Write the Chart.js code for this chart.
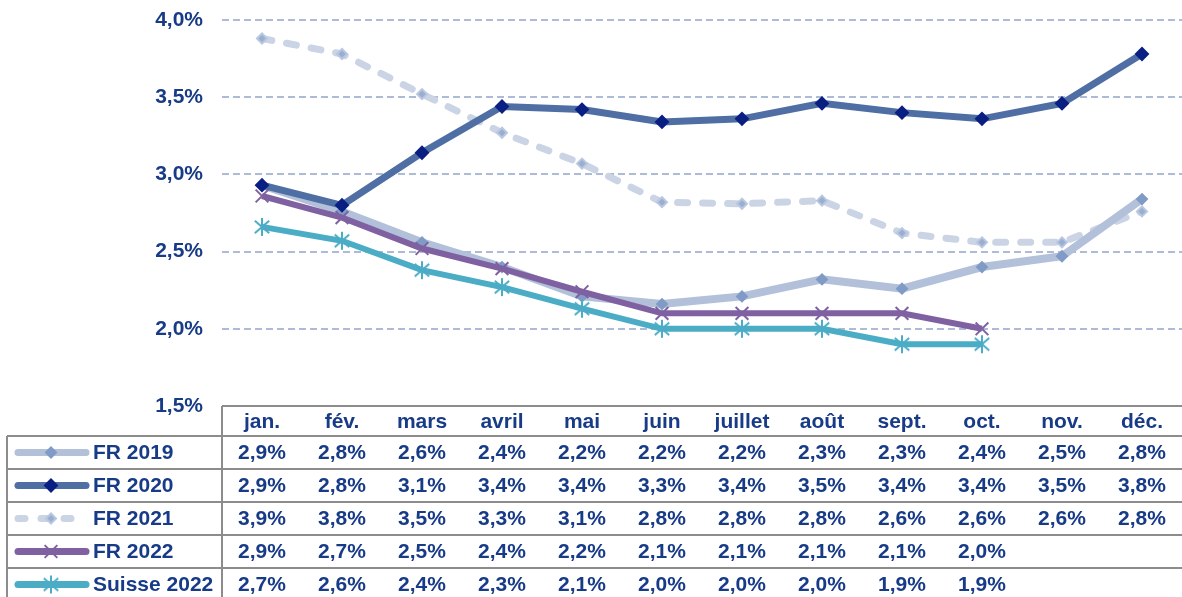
<!DOCTYPE html>
<html>
<head>
<meta charset="utf-8">
<script src="https://cdn.jsdelivr.net/npm/chart.js@4"></script>
<style>
  html, body { margin: 0; padding: 0; background: #fff; }
  #wrap { width: 1182px; height: 597px; position: relative; }
</style>
</head>
<body>
<div id="wrap"><canvas id="chart" width="1182" height="597"></canvas></div>
<script>
// Data
const months = ['jan.', 'fév.', 'mars', 'avril', 'mai', 'juin', 'juillet', 'août', 'sept.', 'oct.', 'nov.', 'déc.'];
const fr2019 = [2.93, 2.76, 2.56, 2.40, 2.21, 2.16, 2.21, 2.32, 2.26, 2.40, 2.47, 2.84];
const fr2020 = [2.93, 2.80, 3.14, 3.44, 3.42, 3.34, 3.36, 3.46, 3.40, 3.36, 3.46, 3.78];
const fr2021 = [3.88, 3.78, 3.52, 3.27, 3.07, 2.82, 2.81, 2.83, 2.62, 2.56, 2.56, 2.76];
const fr2022 = [2.86, 2.72, 2.52, 2.39, 2.24, 2.10, 2.10, 2.10, 2.10, 2.00];
const suisse2022 = [2.66, 2.57, 2.38, 2.27, 2.13, 2.00, 2.00, 2.00, 1.90, 1.90];
const yTicks = [1.5, 2.0, 2.5, 3.0, 3.5, 4.0];

const TEXT = '#173B86';
const GRID = '#AEBBD6';
const BORDER = '#8C8C8C';
const FONT = '"Liberation Sans", Arial, sans-serif';

function pct(v) {
    return (Math.round(v * 10) / 10).toFixed(1).replace('.', ',') + '%';
}

// asterisk marker (vertical bar + X)
function asterisk(color, r) {
    const c = document.createElement('canvas');
    c.width = c.height = r * 2 + 4;
    const g = c.getContext('2d');
    const m = r + 2;
    g.strokeStyle = color;
    g.lineWidth = 2;
    g.beginPath();
    g.moveTo(m, m - r); g.lineTo(m, m + r);
    g.moveTo(m - r * 0.8, m - r * 0.7); g.lineTo(m + r * 0.8, m + r * 0.7);
    g.moveTo(m + r * 0.8, m - r * 0.7); g.lineTo(m - r * 0.8, m + r * 0.7);
    g.stroke();
    return c;
}
const starImg = asterisk('#4BACC6', 9);

const series = [
    { label: 'FR 2019', data: fr2019, color: '#B2C0DA', width: 8, dash: [], point: 'rectRot', pr: 5, pc: '#7F9BC6', pb: '#7F9BC6', order: 3 },
    { label: 'FR 2020', data: fr2020, color: '#4E6EA4', width: 7, dash: [], point: 'rectRot', pr: 6, pc: '#0A1F82', pb: '#0A1F82', order: 2 },
    { label: 'FR 2021', data: fr2021, color: '#CBD4E5', width: 7, dash: [10, 15], point: 'rectRot', pr: 5, pc: '#9AAED1', pb: '#B9C7E0', order: 4 },
    { label: 'FR 2022', data: fr2022, color: '#7F61A2', width: 6, dash: [], point: 'crossRot', pr: 9, pc: '#7F61A2', pb: '#7F61A2', order: 1 },
    { label: 'Suisse 2022', data: suisse2022, color: '#4BACC6', width: 6, dash: [], point: starImg, pr: 9, pc: '#4BACC6', pb: '#4BACC6', order: 0 }
];

// Table under the plot, placed with the x scale
const tablePlugin = {
    id: 'dataTable',
    afterDraw(chart) {
        const ctx = chart.ctx;
        const x = chart.scales.x;
        const area = chart.chartArea;
        const top = area.bottom;
        const headerH = 30;
        const rowH = 33;
        const left = 7;
        const splitX = area.left;
        const right = chart.width;

        ctx.save();
        ctx.strokeStyle = BORDER;
        ctx.lineWidth = 2;
        ctx.beginPath();
        ctx.moveTo(splitX, top); ctx.lineTo(right, top);
        ctx.moveTo(splitX, top); ctx.lineTo(splitX, chart.height);
        ctx.moveTo(left, top + headerH); ctx.lineTo(left, chart.height);
        for (let i = 0; i < series.length; i++) {
            const y = top + headerH + i * rowH;
            ctx.moveTo(left, y); ctx.lineTo(right, y);
        }
        ctx.stroke();

        ctx.fillStyle = TEXT;
        ctx.font = 'bold 21px ' + FONT;
        ctx.textAlign = 'center';
        ctx.textBaseline = 'middle';
        months.forEach((m, i) => {
            ctx.fillText(m, x.getPixelForValue(i), top + headerH / 2 + 1);
        });

        series.forEach((s, r) => {
            const cy = top + headerH + r * rowH + rowH / 2 + 1;
            // legend sample
            ctx.save();
            ctx.strokeStyle = s.color;
            ctx.lineWidth = 7;
            ctx.lineCap = 'round';
            ctx.setLineDash(s.dash.length ? [7, 16] : []);
            ctx.beginPath();
            ctx.moveTo(18, cy - 1); ctx.lineTo(86, cy - 1);
            ctx.stroke();
            ctx.restore();
            const ps = { pointStyle: s.point, radius: s.pr, borderWidth: 2 };
            ctx.save();
            ctx.fillStyle = s.pc;
            ctx.strokeStyle = s.pb;
            ctx.lineWidth = 2;
            Chart.helpers.drawPoint(ctx, ps, 51, cy - 1);
            ctx.restore();

            ctx.fillStyle = TEXT;
            ctx.textAlign = 'left';
            ctx.fillText(s.label, 93, cy);
            ctx.textAlign = 'center';
            s.data.forEach((v, i) => {
                ctx.fillText(pct(v), x.getPixelForValue(i), cy);
            });
        });
        ctx.restore();
    }
};

new Chart(document.getElementById('chart'), {
    type: 'line',
    data: {
        labels: months,
        datasets: series.map(s => ({
            label: s.label,
            data: s.data,
            borderColor: s.color,
            borderWidth: s.width,
            borderDash: s.dash,
            borderCapStyle: s.dash.length ? 'round' : 'butt',
            pointStyle: s.point,
            pointRadius: s.pr,
            pointBackgroundColor: s.pc,
            pointBorderColor: s.pb,
            pointBorderWidth: 2,
            tension: 0,
            fill: false,
            order: s.order
        }))
    },
    options: {
        responsive: false,
        animation: false,
        layout: { autoPadding: false, padding: { top: 20, right: 0, bottom: 191, left: 0 } },
        plugins: {
            legend: { display: false },
            tooltip: { enabled: false }
        },
        scales: {
            x: {
                display: false,
                offset: true
            },
            y: {
                min: 1.5,
                max: 4.0,
                afterBuildTicks: s => { s.ticks = yTicks.map(v => ({ value: v })); },
                afterFit: s => {
                    s.width = 222;
                    s.paddingTop = 0; s.paddingBottom = 0;
                },
                border: { display: false, dash: [7, 4] },
                grid: {
                    drawTicks: false,
                    lineWidth: 2,
                    color: c => c.tick.value === 1.5 ? 'rgba(0,0,0,0)' : GRID
                },
                ticks: {
                    padding: 19,
                    color: TEXT,
                    font: { family: FONT, size: 21, weight: 'bold' },
                    callback: v => pct(v)
                }
            }
        }
    },
    plugins: [tablePlugin]
});
</script>
</body>
</html>
